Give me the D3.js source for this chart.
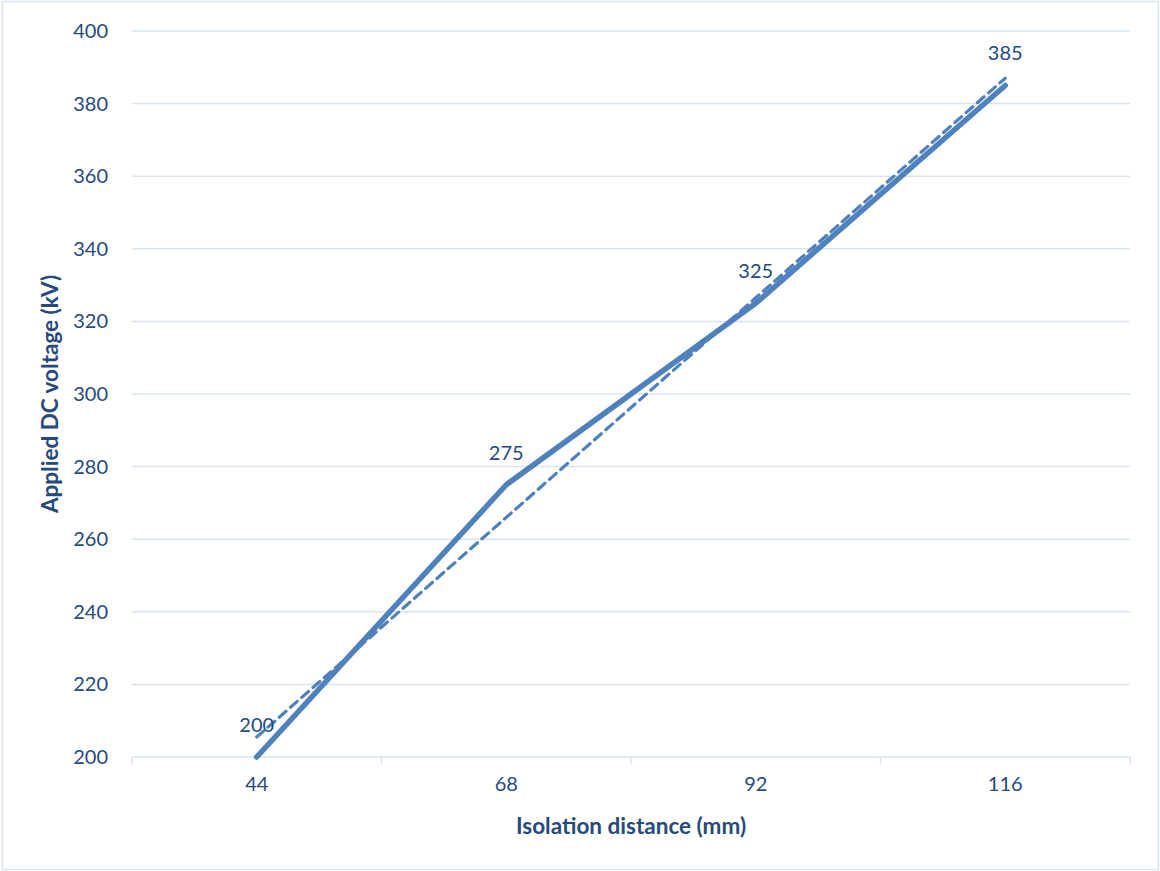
<!DOCTYPE html>
<html>
<head>
<meta charset="utf-8">
<script src="https://cdn.jsdelivr.net/npm/d3@7/dist/d3.min.js"></script>
<style>
  html, body { margin: 0; padding: 0; background: #ffffff; }
  svg { display: block; }
</style>
</head>
<body>
<svg id="chart" width="1160" height="871"></svg>
<script>
// Breakdown voltage versus isolation distance
const distances = ["44", "68", "92", "116"];
const voltages = [200, 275, 325, 385];
// Linear trend line values at each distance
const trendValues = [205.5, 266, 326.5, 387];
const yTicks = [200, 220, 240, 260, 280, 300, 320, 340, 360, 380, 400];

const W = 1160, H = 871;
const margin = { left: 132, right: 30, top: 31, bottom: 114 };
const textColor = "#264a7c";
const lineColor = "#4f81bd";
const gridColor = "#d9e4f2";
const font = "Lato, 'Open Sans', sans-serif";

const svg = d3.select("#chart");

// Outer chart border
svg.append("rect")
  .attr("x", 2.5).attr("y", 1.5)
  .attr("width", W - 4).attr("height", H - 3)
  .attr("fill", "#fff")
  .attr("stroke", gridColor).attr("stroke-width", 1.5);

const x = d3.scaleBand()
  .domain(distances)
  .range([margin.left, W - margin.right]);

const y = d3.scaleLinear()
  .domain([200, 400])
  .range([H - margin.bottom, margin.top]);

// Horizontal gridlines
svg.append("g")
  .selectAll("line")
  .data(yTicks)
  .join("line")
  .attr("x1", margin.left).attr("x2", W - margin.right)
  .attr("y1", d => y(d)).attr("y2", d => y(d))
  .attr("stroke", gridColor).attr("stroke-width", 1.5);

// Y axis labels
const yAxis = d3.axisLeft(y).tickValues(yTicks).tickSize(0).tickPadding(24);
const gy = svg.append("g")
  .attr("transform", `translate(${margin.left},0)`)
  .call(yAxis);
gy.select(".domain").remove();
gy.selectAll("text")
  .attr("fill", textColor)
  .style("font-family", font)
  .style("font-size", "20px");

// X axis with tick marks between categories
const baseY = y(200);
const boundaries = distances.map(d => x(d)).concat([x(distances[distances.length - 1]) + x.bandwidth()]);
svg.append("g")
  .selectAll("line")
  .data(boundaries)
  .join("line")
  .attr("x1", d => d).attr("x2", d => d)
  .attr("y1", baseY).attr("y2", baseY + 7)
  .attr("stroke", gridColor).attr("stroke-width", 1.5);

const xAxis = d3.axisBottom(x).tickSize(0).tickPadding(20);
const gx = svg.append("g")
  .attr("transform", `translate(0,${baseY})`)
  .call(xAxis);
gx.select(".domain").remove();
gx.selectAll("text")
  .attr("fill", textColor)
  .style("font-family", font)
  .style("font-size", "20px");

const cx = d => x(d) + x.bandwidth() / 2;

// Data line
const line = d3.line()
  .x((d, i) => cx(distances[i]))
  .y(d => y(d));

svg.append("path")
  .datum(voltages)
  .attr("d", line)
  .attr("fill", "none")
  .attr("stroke", lineColor)
  .attr("stroke-width", 5.5)
  .attr("stroke-linejoin", "round")
  .attr("stroke-linecap", "round");

// Linear trend line
svg.append("path")
  .datum(trendValues)
  .attr("d", line)
  .attr("fill", "none")
  .attr("stroke", lineColor)
  .attr("stroke-width", 3.2)
  .attr("stroke-dasharray", "9 6")
  .attr("stroke-linecap", "round");

// Value labels above points
svg.append("g")
  .selectAll("text")
  .data(voltages)
  .join("text")
  .attr("x", (d, i) => cx(distances[i]))
  .attr("y", d => y(d) - 25)
  .attr("text-anchor", "middle")
  .attr("fill", textColor)
  .style("font-family", font)
  .style("font-size", "20px")
  .text(d => d);

// Axis titles
svg.append("text")
  .attr("x", (margin.left + W - margin.right) / 2)
  .attr("y", 834)
  .attr("text-anchor", "middle")
  .attr("fill", textColor)
  .style("font-family", font)
  .style("font-size", "22.5px")
  .style("font-weight", "bold")
  .text("Isolation distance (mm)");

svg.append("text")
  .attr("transform", `translate(58,${(margin.top + H - margin.bottom) / 2}) rotate(-90)`)
  .attr("text-anchor", "middle")
  .attr("fill", textColor)
  .style("font-family", font)
  .style("font-size", "22.5px")
  .style("font-weight", "bold")
  .text("Applied DC voltage (kV)");
</script>
</body>
</html>
